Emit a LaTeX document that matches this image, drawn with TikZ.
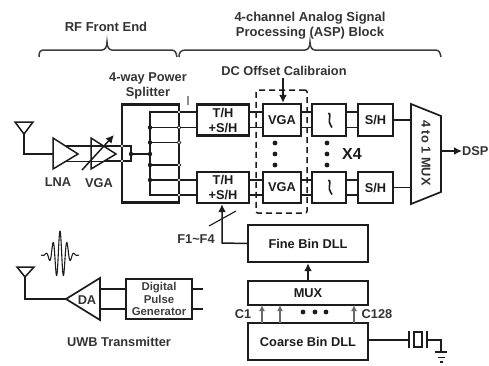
\documentclass[tikz,border=0pt]{standalone}
\usepackage{fontspec}
\setmainfont{Liberation Sans}
\usetikzlibrary{arrows.meta,calc}
\definecolor{ink}{HTML}{1C1C1C}
\tikzset{
  wire/.style={line width=1.5pt,draw=ink},
  thinwire/.style={line width=1.1pt,draw=ink},
  greywire/.style={line width=1.2pt,draw=ink!65},
  heavy/.style={line width=2pt,draw=ink},
  blockbox/.style={draw=ink,line width=2.4pt,inner sep=0pt,align=center,font=\bfseries\fontsize{12.8}{15}\selectfont,text=ink},
  lightbox/.style={draw=ink,line width=1.7pt,inner sep=0pt,align=center,font=\bfseries\fontsize{11.4}{12.6}\selectfont,text=ink!85},
  lab/.style={inner sep=0pt,align=center,font=\bfseries\fontsize{12.8}{14.6}\selectfont,text=ink!90},
  biglab/.style={inner sep=0pt,align=center,font=\bfseries\fontsize{13}{15}\selectfont,text=ink!90},
  blackdot/.style={circle,fill=ink,inner sep=0pt,minimum size=4.4pt},
  opendot/.style={circle,draw=ink,fill=white,line width=0.8pt,inner sep=0pt,minimum size=3.8pt},
  vdot/.style={circle,fill=ink,inner sep=0pt,minimum size=4.8pt},
  tip/.style={-{Latex[length=8pt,width=8pt]}},
  smalltip/.style={-{Latex[length=6pt,width=6pt]}},
}
\begin{document}
\begin{tikzpicture}[x=1pt,y=-1pt]
\useasboundingbox (0,0) rectangle (489,365);
% ---- titles and braces
\node[biglab] (tRF) at (106,27) {RF Front End};
\node[biglab] (tASP) at (310,25.5) {4-channel Analog Signal\\Processing (ASP) Block};
\draw[wire,draw=ink!85] (39,57) .. controls (39,52) and (40,50) .. (44,50) -- (102,50) .. controls (105,50) and (107,47) .. (107,42) .. controls (107,47) and (109,50) .. (112,50) -- (171,50) .. controls (175,50) and (176,52) .. (177,57);
\draw[wire,draw=ink!85] (179,57) .. controls (179,52) and (181,50) .. (186,50) -- (305,50) .. controls (308,50) and (310,47) .. (310,42) .. controls (310,47) and (312,50) .. (315,50) -- (435,50) .. controls (439,50) and (440,52) .. (441,57);
\node[lab] (tSplit) at (148,86) {4-way Power\\Splitter};
\node[lab] (tDC) at (284,71) {DC Offset Calibraion};
\draw[greywire,draw=ink!50] (188,96) -- (188,105);
% ---- splitter
\node[draw=ink,line width=2.2pt,minimum width=57pt,minimum height=98pt,inner sep=0pt] (split) at (150.5,153.5) {};
\coordinate (sa) at (179,112);
\coordinate (sb) at (179,127.5);
\coordinate (sc) at (179,142.5);
\coordinate (sd) at (179,165);
\coordinate (se) at (179,180);
\coordinate (sf) at (179,195);
\coordinate (busT) at (150,112);
\coordinate (busB) at (150,195);
\draw[wire] (sa) -- (busT) -- (busB) -- (sf);
\draw[wire] (150,127.5) -- (sb);
\draw[wire] (150,142.5) -- (sc);
\draw[wire] (150,165) -- (sd);
\draw[wire] (150,180) -- (se);
\node[blackdot] (j1) at (150,127.5) {};
\node[blackdot] (j2) at (150,142.5) {};
\node[blackdot] (j3) at (150,154) {};
\node[blackdot] (j4) at (150,165) {};
\node[blackdot] (j5) at (150,180) {};
\node[blackdot] (j0) at (131,154) {};
\draw[wire] (j0) -- (j3);
% ---- channel blocks
\node[blockbox,minimum width=52pt,minimum height=31pt] (th1) at (223,120) {T/H\\+S/H};
\node[blockbox,minimum width=52pt,minimum height=31pt] (th2) at (223,187.5) {T/H\\+S/H};
\node[blockbox,minimum width=38pt,minimum height=32pt] (vga1) at (282,120) {VGA};
\node[blockbox,minimum width=38pt,minimum height=31pt] (vga2) at (282,187.5) {VGA};
\node[blockbox,minimum width=34pt,minimum height=32pt] (flt1) at (329,120) {};
\node[blockbox,minimum width=34pt,minimum height=31pt] (flt2) at (329,187.5) {};
\node[blockbox,minimum width=35pt,minimum height=32pt] (sh1) at (375.5,120) {S/H};
\node[blockbox,minimum width=35pt,minimum height=31pt] (sh2) at (375.5,187.5) {S/H};
\foreach \c in {sa,sb}{\draw[wire] (\c) -- (\c -| th1.west);}
\foreach \c in {se,sf}{\draw[wire] (\c) -- (\c -| th2.west);}
\foreach \l/\r in {th1/vga1,vga1/flt1,flt1/sh1}{
  \draw[wire] (sa -| \l.east) -- (sa -| \r.west);
  \draw[wire] (sb -| \l.east) -- (sb -| \r.west);
}
\foreach \l/\r in {th2/vga2,vga2/flt2,flt2/sh2}{
  \draw[wire] (se -| \l.east) -- (se -| \r.west);
  \draw[wire] (sf -| \l.east) -- (sf -| \r.west);
}
\foreach \c in {sa,sb,sc,sd,se,sf}{\node[opendot] at (\c) {};}
% filter symbols
\draw[line width=1.6pt,draw=ink] (328,113.5) .. controls (329.5,112.5) and (330,114) .. (329.7,117) .. controls (329.2,121) and (329,124) .. (330.5,125) .. controls (331.2,125.6) and (331.7,126.5) .. (332,127.5);
\draw[line width=1.6pt,draw=ink] (328,180.5) .. controls (329.5,179.5) and (330,181) .. (329.7,184) .. controls (329.2,188) and (329,191) .. (330.5,192) .. controls (331.2,192.6) and (331.7,193.5) .. (332,194.5);
% dashed box
\node[draw=ink,line width=1.5pt,dash pattern=on 6pt off 4pt,rounded corners=2pt,minimum width=51pt,minimum height=123pt,inner sep=0pt] (dash) at (281.5,151.5) {};
\coordinate (dcs) at (283,78);
\draw[heavy,tip] (dcs) -- (dcs |- vga1.north);
% vertical dots
\foreach \y [count=\i] in {143,154,165}{
  \node[vdot] (da\i) at (275,\y) {};
  \node[vdot] (db\i) at (327,\y) {};
}
\node[font=\bfseries\fontsize{16}{18}\selectfont,inner sep=0pt,text=ink] (x4) at (352,154) {X4};
% ---- 4 to 1 MUX
\coordinate (ma) at (411,104);
\coordinate (mb) at (441,116);
\coordinate (mc) at (441,192);
\coordinate (md) at (411,204);
\draw[line width=1.7pt,draw=ink,line join=miter] (ma) -- (mb) -- (mc) -- (md) -- cycle;
\node[lab,rotate=-90] (mlab) at (426,153) {4 to 1 MUX};
\draw[wire] (sh1.east) -- (sh1.east -| ma);
\draw[wire] (sh2.east) -- (sh2.east -| ma);
\node[lab,anchor=west] (dsp) at (462,151) {DSP};
\draw[heavy,tip] (441,151) -- (dsp.west);
% ---- receive chain
\coordinate (ra1) at (15,122);
\coordinate (ra2) at (33,122);
\coordinate (ra3) at (24,134);
\draw[wire] (ra1) -- (ra2) -- (ra3) -- cycle;
\coordinate (lna1) at (53,138);
\coordinate (lna2) at (78,154);
\coordinate (lna3) at (53,169);
\coordinate (vg1) at (91,138);
\coordinate (vg2) at (116,154);
\coordinate (vg3) at (91,169);
\draw[wire] (ra3) -- (ra3 |- lna2) -- (lna1 |- lna2);
\draw[wire] (lna1) -- (lna2) -- (lna3) -- cycle;
\draw[wire] (vg1) -- (vg2) -- (vg3) -- cycle;
\draw[wire] (66,146) -- (103.5,146);
\draw[wire] (66,161.5) -- (103.5,161.5);
\draw[wire] (103.5,146) -- (131,146) -- (131,161) -- (103.5,161);
\node[opendot] (oa) at (122,146) {};
\node[opendot] (ob) at (122,161) {};
\coordinate (vs) at (82,170);
\coordinate (ve) at (114,135);
\draw[wire,tip] (vs) -- (ve);
\node[lab] (lLNA) at (58,182) {LNA};
\node[lab] (lVGA) at (99,183) {VGA};
% ---- transmitter
\draw[thinwire] plot[domain=41:79,samples=160] (\x,{255-24*exp(-((\x-60)/8.5)^2)*cos(360*(\x-60)/7)});
\coordinate (ta1) at (17,267);
\coordinate (ta2) at (34,267);
\coordinate (ta3) at (25,277);
\draw[wire] (ta1) -- (ta2) -- (ta3) -- cycle;
\coordinate (da1) at (100,278);
\coordinate (da2) at (66,299);
\coordinate (da3) at (100,320);
\draw[wire,line width=1.7pt] (da1) -- (da2) -- (da3) -- cycle;
\node[lab] (lDA) at (87,300) {DA};
\draw[wire] (ta3) -- (ta3 |- da2) -- (da2);
\node[lightbox,minimum width=66pt,minimum height=40pt] (dpg) at (159,299) {Digital\\Pulse\\Generator};
\coordinate (ga) at (100,289);
\coordinate (gb) at (100,309);
\draw[wire] (ga) -- (ga -| dpg.west);
\draw[wire] (gb) -- (gb -| dpg.west);
\coordinate (oc) at (203,289);
\coordinate (od) at (203,309);
\draw[wire] (oc -| dpg.east) -- (oc);
\draw[wire] (od -| dpg.east) -- (od);
\node[lab] (lUWB) at (119,342) {UWB Transmitter};
% ---- DLL
\node[blockbox,minimum width=120pt,minimum height=37pt] (fine) at (308,243.5) {Fine Bin DLL};
\node[blockbox,minimum width=120pt,minimum height=24pt] (mux) at (308,293) {MUX};
\node[blockbox,minimum width=120pt,minimum height=37pt] (coarse) at (308,341.5) {Coarse Bin DLL};
\coordinate (fb) at (222,243);
\draw[wire,tip] (fine.west) -- (fb) -- (fb |- th2.south);
\draw[thinwire] (209,226) -- (236,211);
\node[lab] (lF) at (196,239) {F1\textasciitilde F4};
\draw[heavy,tip] (mux.north) -- (fine.south);
\foreach \x/\n in {262/a,280/b,354/c}{
  \draw[greywire,smalltip] (\x,323) -- (\x,305);
}
\foreach \x in {303,315,326}{\node[vdot] at (\x,312) {};}
\node[lab] (lC1) at (243,314) {C1};
\node[lab] (lC128) at (377,314) {C128};
% ---- crystal
\coordinate (x1) at (409,340);
\coordinate (x2) at (427,340);
\coordinate (gnd) at (441,352);
\draw[wire] (coarse.east |- x1) -- (x1);
\draw[wire] (409,331) -- (409,348);
\draw[wire] (414,332) rectangle (422,347);
\draw[wire] (427,331) -- (427,348);
\draw[wire] (x2) -- (x2 -| gnd) -- (gnd);
\draw[wire] (435,352) -- (447,352);
\draw[wire] (437.5,357.5) -- (444.5,357.5);
\draw[wire] (439.5,362) -- (442.5,362);
\end{tikzpicture}
\end{document}
